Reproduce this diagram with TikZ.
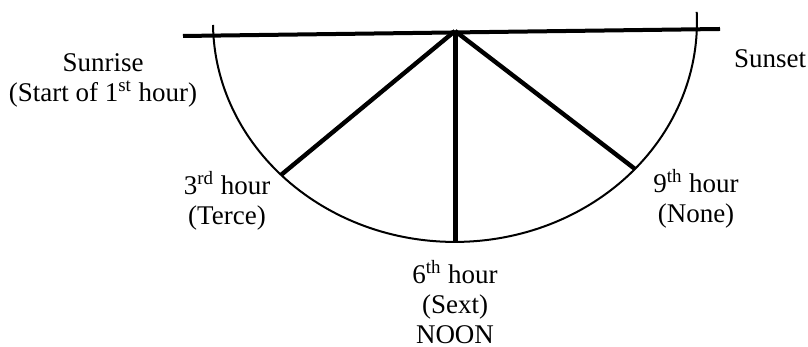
\documentclass[tikz,border=0pt]{standalone}
\usepackage{fontspec}
\setmainfont{Liberation Serif}
\usetikzlibrary{positioning}
\tikzset{
  horizonline/.style={line width=2pt},
  hourline/.style={line width=2.2pt},
  dayarc/.style={line width=1pt},
  hourlabel/.style={align=center, inner sep=0pt, anchor=base, font=\fontsize{13.5}{15}\selectfont}
}
\begin{document}
\begin{tikzpicture}[x=0.5pt, y=0.5pt, every node/.style={hourlabel}]
  \useasboundingbox (0,0) rectangle (808,347);
  % horizon and the day's half-circle
  \coordinate (hl) at (183,311);
  \coordinate (hr) at (720,318);
  \coordinate (apex) at (455,316);
  \coordinate (arcstart) at (213,322);
  \draw[dayarc] (arcstart) arc[start angle=180.8, end angle=362.6, x radius=242, y radius=220];
  \draw[horizonline] (hl) -- (hr);
  % hour points on the arc
  \coordinate (terce) at (281,172);
  \coordinate (sext) at (455,105);
  \coordinate (none) at (635,178);
  \draw[hourline] (apex) -- (terce);
  \draw[hourline, line width=2.5pt] (apex) -- (sext);
  \draw[hourline] (apex) -- (none);
  % labels (base = last line)
  \node (sunrise) at (103,245) {Sunrise\\(Start of 1\textsuperscript{st} hour)};
  \node (sunset) at (770,279) {Sunset};
  \node (terceLbl) at (227,122) {3\textsuperscript{rd} hour\\(Terce)};
  \node (noneLbl) at (696,124) {9\textsuperscript{th} hour\\(None)};
  \node (sextLbl) at (455,3) {6\textsuperscript{th} hour\\(Sext)\\NOON};
\end{tikzpicture}
\end{document}
